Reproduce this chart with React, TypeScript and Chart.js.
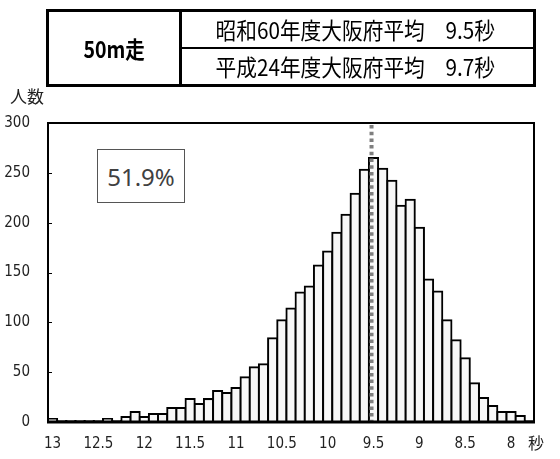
import React, { useEffect, useRef } from "react";
import { Chart, registerables } from "chart.js";

Chart.register(...registerables);

// ---- data ----
const categories = [
  "13.0", "12.9", "12.8", "12.7", "12.6", "12.5", "12.4", "12.3", "12.2", "12.1",
  "12.0", "11.9", "11.8", "11.7", "11.6", "11.5", "11.4", "11.3", "11.2", "11.1",
  "11.0", "10.9", "10.8", "10.7", "10.6", "10.5", "10.4", "10.3", "10.2", "10.1",
  "10.0", "9.9", "9.8", "9.7", "9.6", "9.5", "9.4", "9.3", "9.2", "9.1",
  "9.0", "8.9", "8.8", "8.7", "8.6", "8.5", "8.4", "8.3", "8.2", "8.1",
  "8.0", "7.9", "7.8",
];
const counts = [
  3, 1, 1, 1, 1, 1, 3, 1, 5, 10,
  5, 8, 8, 14, 14, 23, 18, 23, 31, 29,
  34, 45, 55, 58, 84, 102, 114, 130, 136, 157,
  171, 190, 208, 229, 253, 265, 254, 242, 217, 223,
  195, 143, 131, 102, 82, 64, 39, 24, 16, 10,
  10, 6, 1,
];
const xTickLabels = ["13", "12.5", "12", "11.5", "11", "10.5", "10", "9.5", "9", "8.5", "8"];
const yMin = 0;
const yMax = 300;
const yStep = 50;
const averageMark = "9.5";
const eventName = "50m走";
const averageRows = ["昭和60年度大阪府平均　9.5秒", "平成24年度大阪府平均　9.7秒"];
const shareLabel = "51.9%";
const yAxisTitle = "人数";
const xAxisUnit = "秒";

const tickFont = "'Liberation Sans Narrow', 'DejaVu Sans Condensed', 'Liberation Sans', sans-serif";
const cjkFont = "'Noto Sans CJK JP', 'Noto Sans', sans-serif";

const framePlugin = {
  id: "framePlugin",
  afterDatasetsDraw(chart: any) {
    const { ctx, chartArea } = chart;
    const { left, right, top, bottom } = chartArea;
    const xs = chart.scales.x;
    const ys = chart.scales.y;
    ctx.save();
    // average dashed line
    const idx = categories.indexOf(averageMark);
    const ax = xs.getPixelForValue(idx) - 2;
    ctx.strokeStyle = "#7f7f7f";
    ctx.lineWidth = 4;
    ctx.setLineDash([3.5, 3.2]);
    ctx.beginPath();
    ctx.moveTo(ax, top + 2);
    ctx.lineTo(ax, bottom);
    ctx.stroke();
    ctx.setLineDash([]);
    // frame
    ctx.strokeStyle = "#000";
    ctx.lineWidth = 2;
    ctx.strokeRect(left, top, right - left, bottom - top);
    ctx.lineWidth = 3;
    ctx.beginPath();
    ctx.moveTo(left - 1, bottom);
    ctx.lineTo(right + 1, bottom);
    ctx.stroke();
    // inward y ticks
    ctx.lineWidth = 1;
    ys.ticks.forEach((t: any) => {
      const y = Math.round(ys.getPixelForValue(t.value)) + 0.5;
      ctx.beginPath();
      ctx.moveTo(left, y);
      ctx.lineTo(left + 4, y);
      ctx.stroke();
    });
    ctx.restore();
  },
};

export default function App() {
  const canvasRef = useRef<HTMLCanvasElement | null>(null);

  useEffect(() => {
    const canvas = canvasRef.current;
    if (!canvas) return;
    const chart = new Chart(canvas, {
      type: "bar",
      data: {
        labels: categories,
        datasets: [
          {
            data: counts,
            backgroundColor: "#f7f7f7",
            borderColor: "#000",
            borderWidth: 2,
            inflateAmount: 1,
            barPercentage: 1,
            categoryPercentage: 1,
          } as any,
        ],
      },
      options: {
        responsive: false,
        animation: false,
        devicePixelRatio: 1,
        layout: { padding: { left: 0, top: 123, right: 26, bottom: 0 } },
        plugins: { legend: { display: false }, tooltip: { enabled: false } },
        scales: {
          x: {
            type: "category",
            offset: true,
            grid: { display: false, drawTicks: false },
            border: { display: false },
            ticks: {
              autoSkip: false,
              maxRotation: 0,
              minRotation: 0,
              padding: 13,
              color: "#222",
              font: { family: tickFont, size: 15 },
              callback: (_v: any, i: number) => (i % 5 === 0 ? xTickLabels[i / 5] ?? "" : ""),
            },
            afterFit: (s: any) => {
              s.height = 37;
            },
          },
          y: {
            min: yMin,
            max: yMax,
            grid: { display: false, drawTicks: false },
            border: { display: false },
            ticks: {
              stepSize: yStep,
              padding: 18,
              color: "#222",
              font: { family: tickFont, size: 15 },
            },
            afterFit: (s: any) => {
              s.width = 48;
            },
          },
        },
      },
      plugins: [framePlugin],
    });
    return () => chart.destroy();
  }, []);

  const abs = (o: React.CSSProperties): React.CSSProperties => ({ position: "absolute", ...o });

  return (
    <div style={abs({ left: 0, top: 0, width: 560, height: 459, background: "#fff", overflow: "hidden" })}>
      <canvas ref={canvasRef} width={560} height={459} style={abs({ left: 0, top: 0, width: 560, height: 459 })} />
      {/* header table */}
      <div style={abs({ left: 46, top: 9, width: 490, height: 78, border: "3px solid #000", boxSizing: "border-box" })} />
      <div style={abs({ left: 179, top: 9, width: 3, height: 78, background: "#000" })} />
      <div style={abs({ left: 180, top: 47, width: 356, height: 2, background: "#000" })} />
      <div
        style={abs({
          left: 49,
          top: 12,
          width: 130,
          height: 72,
          display: "flex",
          alignItems: "center",
          justifyContent: "center",
          fontFamily: cjkFont,
          fontWeight: 700,
          fontSize: 23,
          color: "#000",
        })}
      >
        <span style={{ display: "inline-block", transform: "scaleX(0.85)" }}>{eventName}</span>
      </div>
      {averageRows.map((t, i) => (
        <div
          key={i}
          style={abs({
            left: 182,
            top: i === 0 ? 12 : 49,
            width: 346,
            height: 35,
            display: "flex",
            alignItems: "center",
            justifyContent: "center",
            fontFamily: cjkFont,
            fontSize: 23,
            lineHeight: "35px",
            color: "#000",
            whiteSpace: "nowrap",
          })}
        >
          <span style={{ display: "inline-block", transform: "scaleX(0.9)" }}>{t}</span>
        </div>
      ))}
      <div style={abs({ left: 10, top: 86, fontFamily: cjkFont, fontSize: 17, lineHeight: "20px", color: "#222" })}>
        {yAxisTitle}
      </div>
      <div style={abs({ left: 528, top: 432, fontFamily: cjkFont, fontSize: 16, lineHeight: "20px", color: "#222" })}>
        {xAxisUnit}
      </div>
      <div
        style={abs({
          left: 97,
          top: 149,
          width: 88,
          height: 54,
          border: "1.5px solid #555",
          boxSizing: "border-box",
          background: "#fff",
          display: "flex",
          alignItems: "center",
          justifyContent: "center",
          fontFamily: "'Noto Sans', 'Open Sans', sans-serif",
          fontSize: 24,
          color: "#404040",
        })}
      >
        {shareLabel}
      </div>
    </div>
  );
}
